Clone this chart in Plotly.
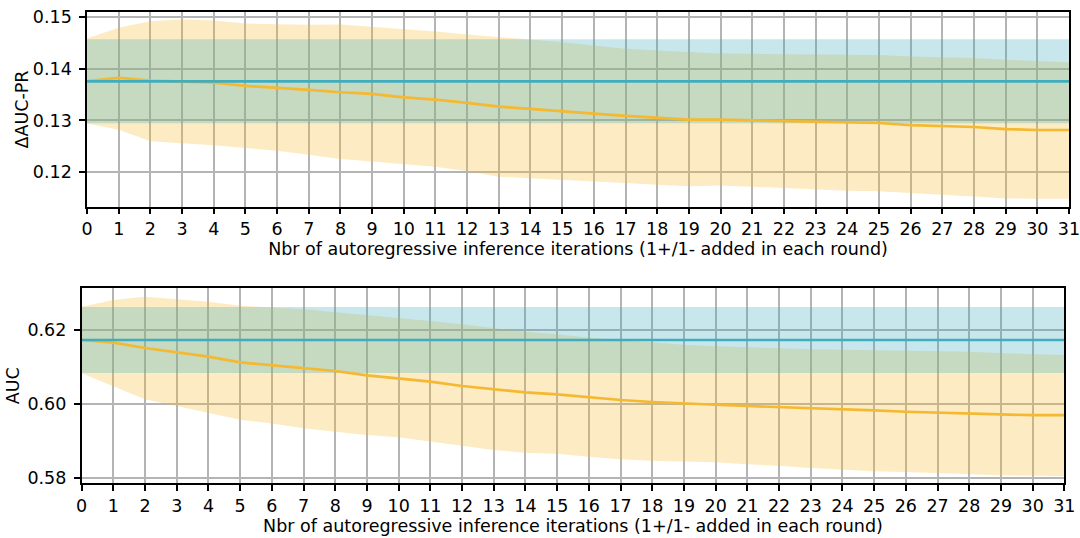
import plotly.graph_objects as go

iterations = list(range(32))

# Top panel: ΔAUC-PR
pr_base_mean = 0.13755
pr_base_half = 0.0081
pr_auto_mean = [0.1376, 0.1382, 0.1377, 0.1375, 0.1373, 0.13666, 0.13633, 0.13589, 0.13543, 0.13511,
                0.13446, 0.13402, 0.13338, 0.13266, 0.13222, 0.13183, 0.13131, 0.13087, 0.13054, 0.13015,
                0.13015, 0.1300, 0.12994, 0.12977, 0.12963, 0.1295, 0.12911, 0.12898, 0.12873, 0.12834,
                0.12815, 0.12815]
pr_auto_upper = [0.1458, 0.14786, 0.14913, 0.14946, 0.14927, 0.14869, 0.14855, 0.14843, 0.14849, 0.14805,
                 0.14753, 0.14714, 0.14656, 0.14604, 0.14566, 0.14508, 0.14444, 0.1438, 0.14347, 0.14315,
                 0.1429, 0.14284, 0.14276, 0.1427, 0.1427, 0.14264, 0.14232, 0.14218, 0.14206, 0.14168,
                 0.14148, 0.14122]
pr_auto_lower = [0.1294, 0.12822, 0.12597, 0.12565, 0.1252, 0.12469, 0.12417, 0.12339, 0.12256, 0.1221,
                 0.1216, 0.12108, 0.12019, 0.11916, 0.11884, 0.11857, 0.11825, 0.11792, 0.11761, 0.11728,
                 0.11747, 0.11722, 0.11703, 0.11664, 0.11645, 0.11632, 0.11593, 0.11568, 0.11535, 0.11496,
                 0.1149, 0.1149]

# Bottom panel: AUC
auc_base_mean = 0.6173
auc_base_half = 0.0089
auc_auto_mean = [0.6173, 0.61657, 0.61514, 0.61387, 0.61279, 0.61126, 0.61045, 0.60973, 0.60892, 0.60775,
                 0.60694, 0.60603, 0.60486, 0.60397, 0.60316, 0.60262, 0.60181, 0.60108, 0.60054, 0.60008,
                 0.5998, 0.59946, 0.59919, 0.59883, 0.59846, 0.59828, 0.5979, 0.59773, 0.59746, 0.59719,
                 0.597, 0.597]
auc_auto_upper = [0.6263, 0.62811, 0.629, 0.6283, 0.62765, 0.62657, 0.62603, 0.6256, 0.62478, 0.62405,
                  0.62316, 0.62243, 0.62154, 0.62046, 0.61955, 0.61884, 0.61792, 0.6173, 0.61657, 0.61603,
                  0.61559, 0.61522, 0.61505, 0.61478, 0.6146, 0.6146, 0.61432, 0.61424, 0.61414, 0.6137,
                  0.61343, 0.61324]
auc_auto_lower = [0.6083, 0.60486, 0.60127, 0.59946, 0.59765, 0.59576, 0.59476, 0.59343, 0.59252, 0.5916,
                  0.59099, 0.5898, 0.58865, 0.58757, 0.58685, 0.58657, 0.58576, 0.58505, 0.58468, 0.58441,
                  0.58424, 0.5837, 0.58332, 0.5827, 0.58216, 0.58181, 0.58162, 0.58127, 0.58089, 0.58073,
                  0.58062, 0.58054]

x_title = "Nbr of autoregressive inference iterations (1+/1- added in each round)"

BLUE = "#40adbe"
ORANGE = "#f4b930"
BLUE_FILL = "rgba(64,173,190,0.29)"
ORANGE_FILL = "rgba(244,185,48,0.29)"
FONT = "DejaVu Sans"
FS = 17.5

fig = go.Figure()


def add_panel(xa, ya, base_mean, base_half, auto_mean, auto_up, auto_lo):
    n = len(iterations)
    base = [base_mean] * n
    base_up = [base_mean + base_half] * n
    base_lo = [base_mean - base_half] * n
    common = dict(xaxis=xa, yaxis=ya, showlegend=False, hoverinfo="skip", mode="lines")
    fig.add_trace(go.Scatter(x=iterations, y=auto_lo, line=dict(width=0), **common))
    fig.add_trace(go.Scatter(x=iterations, y=auto_up, line=dict(width=0), fill="tonexty",
                             fillcolor=ORANGE_FILL, **common))
    fig.add_trace(go.Scatter(x=iterations, y=base_lo, line=dict(width=0), **common))
    fig.add_trace(go.Scatter(x=iterations, y=base_up, line=dict(width=0), fill="tonexty",
                             fillcolor=BLUE_FILL, **common))
    fig.add_trace(go.Scatter(x=iterations, y=auto_mean, line=dict(color=ORANGE, width=2.7), **common))
    fig.add_trace(go.Scatter(x=iterations, y=base, line=dict(color=BLUE, width=2.7), **common))


add_panel("x", "y", pr_base_mean, pr_base_half, pr_auto_mean, pr_auto_upper, pr_auto_lower)
add_panel("x2", "y2", auc_base_mean, auc_base_half, auc_auto_mean, auc_auto_upper, auc_auto_lower)

axis_common = dict(
    showline=True, linecolor="black", linewidth=1.5, mirror=True,
    showgrid=True, gridcolor="#b4b4b4", gridwidth=1.6,
    ticks="outside", ticklen=6, tickwidth=1.5, tickcolor="black",
    tickfont=dict(family=FONT, size=FS, color="black"),
    zeroline=False, layer="above traces", automargin=False,
    ticklabeloverflow="allow",
)

fig.update_layout(
    width=1080, height=538,
    margin=dict(l=0, r=0, t=0, b=0),
    paper_bgcolor="white", plot_bgcolor="white",
    font=dict(family=FONT, size=FS, color="black"),
    xaxis=dict(domain=[0.0806, 0.9898], anchor="y", range=[0, 31], tickmode="linear", dtick=1, tick0=0,
               title=dict(text=x_title, font=dict(family=FONT, size=FS), standoff=4), **axis_common),
    yaxis=dict(domain=[0.6158, 0.9771], anchor="x", range=[0.11336, 0.15085], tickmode="array",
               tickvals=[0.12, 0.13, 0.14, 0.15], ticktext=["0.12", "0.13", "0.14", "0.15"],
               ticklabelstandoff=4,
               title=dict(text="ΔAUC-PR", font=dict(family=FONT, size=FS), standoff=0), **axis_common),
    xaxis2=dict(domain=[0.0756, 0.9855], anchor="y2", range=[0, 31], tickmode="linear", dtick=1, tick0=0,
                title=dict(text=x_title, font=dict(family=FONT, size=FS), standoff=4), **axis_common),
    yaxis2=dict(domain=[0.1017, 0.4641], anchor="x2", range=[0.57857, 0.63127], tickmode="array",
                tickvals=[0.58, 0.60, 0.62], ticktext=["0.58", "0.60", "0.62"],
                ticklabelstandoff=4,
                title=dict(text="AUC", font=dict(family=FONT, size=FS), standoff=3), **axis_common),
)

# remove the default page margin so the 1080x538 figure fills the window exactly
fig.write_html("out.html",
               config={"displayModeBar": False},
               post_script="document.body.style.margin='0';document.body.style.overflow='hidden';")
